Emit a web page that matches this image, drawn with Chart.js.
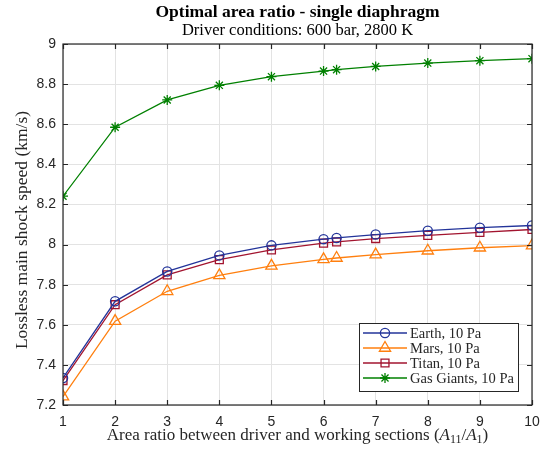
<!DOCTYPE html>
<html lang="en">
<head>
<meta charset="UTF-8">
<title>Optimal area ratio - single diaphragm</title>
<script src="https://cdn.jsdelivr.net/npm/chart.js"></script>
<style>
  body { margin: 0; background: #fff; }
  #wrap { width: 543px; height: 450px; }
</style>
</head>
<body>
<div id="wrap"><canvas id="areaChart" width="543" height="450"></canvas></div>
<script>
// area ratio A11/A1 (there is an extra point at 6.25)
const areaRatio = [1, 2, 3, 4, 5, 6, 6.25, 7, 8, 9, 10];

// lossless main shock speed, km/s
const earth = [7.335, 7.717, 7.866, 7.946, 7.996, 8.027, 8.033, 8.050, 8.069, 8.084, 8.095];
const mars = [7.242, 7.618, 7.767, 7.846, 7.894, 7.926, 7.933, 7.950, 7.969, 7.984, 7.995];
const titan = [7.322, 7.700, 7.849, 7.925, 7.973, 8.007, 8.013, 8.030, 8.046, 8.061, 8.075];
const gasGiants = [8.241, 8.585, 8.721, 8.794, 8.837, 8.865, 8.872, 8.888, 8.905, 8.917, 8.927];

const xTicks = [1, 2, 3, 4, 5, 6, 7, 8, 9, 10];
const yTicks = [7.2, 7.4, 7.6, 7.8, 8, 8.2, 8.4, 8.6, 8.8, 9];

const seriesNames = ['Earth, 10 Pa', 'Mars, 10 Pa', 'Titan, 10 Pa', 'Gas Giants, 10 Pa'];
const seriesColors = ['#23349a', '#ff7f0e', '#a2142f', '#008000'];

const AXIS_COLOR = '#262626';
const SERIF = '"Liberation Serif", "DejaVu Serif", serif';
const SANS = '"Liberation Sans", Arial, sans-serif';

function toPoints(ys) {
    return ys.map((y, i) => ({ x: areaRatio[i], y: y }));
}

function makeSet(i, values, style, radius) {
    return {
        label: seriesNames[i],
        data: toPoints(values),
        borderColor: seriesColors[i],
        backgroundColor: 'rgba(0,0,0,0)',
        borderWidth: 1.3,
        pointStyle: style,
        pointRadius: radius,
        pointBorderWidth: 1.3,
        pointBackgroundColor: 'rgba(0,0,0,0)',
        pointBorderColor: seriesColors[i],
        tension: 0
    };
}

const datasets = [
    makeSet(0, earth, 'circle', 4.6),
    makeSet(1, mars, 'triangle', 6.5),
    makeSet(2, titan, 'rect', 5.6),
    makeSet(3, gasGiants, 'star', 5)
];

// draws a run of text pieces (for the subscripts), centred on cx
function drawPieces(ctx, pieces, cx, y) {
    let total = 0;
    pieces.forEach(p => { ctx.font = p.font; p.w = ctx.measureText(p.text).width; total += p.w; });
    let x = cx - total / 2;
    ctx.textAlign = 'left';
    pieces.forEach(p => {
        ctx.font = p.font;
        ctx.fillText(p.text, x, y + (p.dy || 0));
        x += p.w;
    });
}

// MATLAB-looking box, inward ticks, titles and legend
const matlabAxes = {
    id: 'matlabAxes',
    afterDraw(chart) {
        const ctx = chart.ctx;
        const a = chart.chartArea;
        const xs = chart.scales.x;
        const ys = chart.scales.y;
        const tick = 5;

        ctx.save();
        ctx.strokeStyle = AXIS_COLOR;
        ctx.lineWidth = 1.2;
        ctx.strokeRect(a.left, a.top, a.right - a.left, a.bottom - a.top);

        ctx.beginPath();
        xTicks.forEach(v => {
            const px = Math.round(xs.getPixelForValue(v)) + 0.5;
            ctx.moveTo(px, a.bottom); ctx.lineTo(px, a.bottom - tick);
            ctx.moveTo(px, a.top); ctx.lineTo(px, a.top + tick);
        });
        yTicks.forEach(v => {
            const py = Math.round(ys.getPixelForValue(v)) + 0.5;
            ctx.moveTo(a.left, py); ctx.lineTo(a.left + tick, py);
            ctx.moveTo(a.right, py); ctx.lineTo(a.right - tick, py);
        });
        ctx.stroke();

        // titles
        const cx = (a.left + a.right) / 2;
        ctx.fillStyle = '#000';
        ctx.textAlign = 'center';
        ctx.textBaseline = 'alphabetic';
        ctx.font = 'bold 17.5px ' + SERIF;
        ctx.fillText('Optimal area ratio - single diaphragm', cx, 17);
        ctx.font = '16.5px ' + SERIF;
        ctx.fillText('Driver conditions: 600 bar, 2800 K', cx, 35);

        ctx.fillStyle = AXIS_COLOR;
        const f = '17px ' + SERIF, fi = 'italic 17px ' + SERIF, fs = '12px ' + SERIF;
        drawPieces(ctx, [
            { text: 'Area ratio between driver and working sections (', font: f },
            { text: 'A', font: fi },
            { text: '11', font: fs, dy: 3 },
            { text: '/', font: f },
            { text: 'A', font: fi },
            { text: '1', font: fs, dy: 3 },
            { text: ')', font: f }
        ], cx, 440);

        ctx.save();
        ctx.translate(27, 230);
        ctx.rotate(-Math.PI / 2);
        ctx.textAlign = 'center';
        ctx.font = '17.5px ' + SERIF;
        ctx.fillText('Lossless main shock speed (km/s)', 0, 0);
        ctx.restore();

        // legend
        const lx = 359, ly = 323, lw = 159, lh = 68;
        ctx.fillStyle = '#fff';
        ctx.fillRect(lx, ly, lw, lh);
        ctx.strokeStyle = AXIS_COLOR;
        ctx.lineWidth = 1;
        ctx.strokeRect(lx + 0.5, ly + 0.5, lw, lh);

        ctx.font = '14.5px ' + SERIF;
        ctx.textAlign = 'left';
        ctx.textBaseline = 'middle';
        chart.data.datasets.forEach((ds, i) => {
            const y = ly + 10 + i * 15;
            ctx.strokeStyle = ds.borderColor;
            ctx.lineWidth = ds.borderWidth;
            ctx.beginPath();
            ctx.moveTo(lx + 4, y);
            ctx.lineTo(lx + 48, y);
            ctx.stroke();
            ctx.fillStyle = 'rgba(0,0,0,0)';
            Chart.helpers.drawPoint(ctx, {
                pointStyle: ds.pointStyle,
                radius: ds.pointRadius,
                borderWidth: ds.pointBorderWidth,
                rotation: 0
            }, lx + 26, y);
            ctx.fillStyle = AXIS_COLOR;
            ctx.fillText(ds.label, lx + 51, y + 1);
        });
        ctx.restore();
    }
};

new Chart(document.getElementById('areaChart'), {
    type: 'line',
    data: { datasets: datasets },
    options: {
        responsive: false,
        animation: false,
        devicePixelRatio: 1,
        layout: { padding: { top: 44, right: 11, left: 0, bottom: 0 } },
        plugins: {
            legend: { display: false },
            title: { display: false },
            tooltip: { enabled: false }
        },
        scales: {
            x: {
                type: 'linear',
                min: 1,
                max: 10,
                afterFit(scale) {
                    scale.height = 45;
                    scale.paddingLeft = 0;
                    scale.paddingRight = 0;
                },
                afterBuildTicks(scale) { scale.ticks = xTicks.map(v => ({ value: v })); },
                grid: { color: '#e3e3e3', drawTicks: false },
                border: { display: false },
                ticks: {
                    padding: 9,
                    color: AXIS_COLOR,
                    font: { family: SANS, size: 14 },
                    callback: v => String(v)
                }
            },
            y: {
                type: 'linear',
                min: 7.2,
                max: 9,
                afterFit(scale) {
                    scale.width = 63;
                    scale.paddingTop = 0;
                    scale.paddingBottom = 0;
                },
                afterBuildTicks(scale) { scale.ticks = yTicks.map(v => ({ value: v })); },
                grid: { color: '#e3e3e3', drawTicks: false },
                border: { display: false },
                ticks: {
                    padding: 7,
                    color: AXIS_COLOR,
                    font: { family: SANS, size: 14 },
                    callback: v => String(+v.toFixed(1))
                }
            }
        }
    },
    plugins: [matlabAxes]
});
</script>
</body>
</html>
